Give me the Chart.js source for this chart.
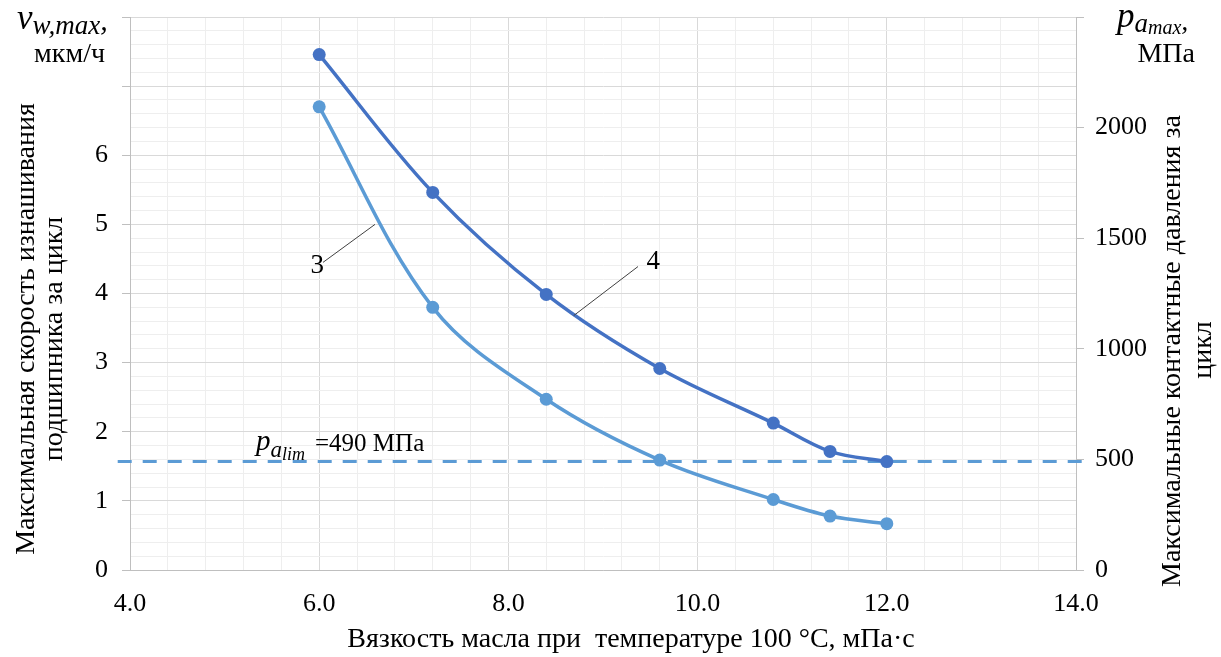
<!DOCTYPE html>
<html>
<head>
<meta charset="utf-8">
<script src="https://cdn.jsdelivr.net/npm/chart.js@4.4.1/dist/chart.umd.min.js"></script>
<style>
html, body { margin: 0; padding: 0; background: #fff; }
#wrap { width: 1221px; height: 657px; position: relative; }
</style>
</head>
<body>
<div id="wrap"><canvas id="chart-wear"></canvas></div>
<script>
// values
const viscosity = [6.0, 7.2, 8.4, 9.6, 10.8, 11.4, 12.0];
const wearRate = [6.70, 3.80, 2.47, 1.59, 1.02, 0.78, 0.67];          // curve 3, left axis
const contactPressure = [2330, 1707, 1246, 911, 664, 536, 490];      // curve 4, right axis
const pressureLimit = 490;
const limitSpan = [3.87, 14.14];
const xLabels = [4, 6, 8, 10, 12, 14];
const leftLabels = [0, 1, 2, 3, 4, 5, 6];
const rightLabels = [0, 500, 1000, 1500, 2000];

const serif = "'Liberation Serif', 'Times New Roman', serif";
const light = '#5B9BD5';
const dark = '#4472C4';
const gridMajor = '#d9d9d9';
const gridMinor = '#eeeeee';
const axisColor = '#bfbfbf';

const near = (v, list) => list.some(t => Math.abs(t - v) < 1e-6);

function drawRuns(ctx, x, list) {
    list.forEach(r => {
        ctx.font = r.font;
        ctx.fillText(r.text, x, r.y);
        x += ctx.measureText(r.text).width + (r.gap || 0);
    });
}

const extraText = {
    id: 'extraText',
    afterDraw(chart) {
        const ctx = chart.ctx;
        const xs = chart.scales.x, yl = chart.scales.y;
        ctx.save();
        ctx.fillStyle = '#000';
        ctx.textBaseline = 'alphabetic';

        // axis titles
        ctx.font = '28px ' + serif;
        ctx.textAlign = 'center';
        ctx.fillText('Вязкость масла при  температуре 100 °С, мПа·с', 631, 647);

        [[34, 329, 'Максимальная скорость изнашивания'], [62, 339, 'подшипника за цикл'],
         [1180, 351, 'Максимальные контактные давления за'], [1211, 350, 'цикл']].forEach(t => {
            ctx.save();
            ctx.translate(t[0], t[1]);
            ctx.rotate(-Math.PI / 2);
            ctx.fillText(t[2], 0, 0);
            ctx.restore();
        });

        // units on top
        ctx.textAlign = 'left';
        drawRuns(ctx, 17, [
            { text: 'v', font: 'italic 35px ' + serif, y: 29 },
            { text: 'w,max', font: 'italic 27px ' + serif, y: 34 },
            { text: ',', font: 'italic 30px ' + serif, y: 30 }
        ]);
        drawRuns(ctx, 1117, [
            { text: 'p', font: 'italic 35px ' + serif, y: 27 },
            { text: 'a', font: 'italic 27px ' + serif, y: 32 },
            { text: 'max', font: 'italic 20px ' + serif, y: 34 },
            { text: ',', font: 'italic 28px ' + serif, y: 30 }
        ]);
        ctx.textAlign = 'right';
        ctx.font = '28px ' + serif;
        ctx.fillText('мкм/ч', 105, 62);
        ctx.fillText('МПа', 1195, 62);

        // limit label
        ctx.textAlign = 'left';
        drawRuns(ctx, 256, [
            { text: 'p', font: 'italic 29px ' + serif, y: 450 },
            { text: 'a', font: 'italic 23px ' + serif, y: 457 },
            { text: 'lim', font: 'italic 18px ' + serif, y: 460, gap: 10 },
            { text: '=490 МПа', font: '25px ' + serif, y: 451 }
        ]);

        // curve numbers with leaders
        ctx.textAlign = 'center';
        ctx.font = '27px ' + serif;
        ctx.fillText('3', xs.getPixelForValue(5.98), yl.getPixelForValue(4.30));
        ctx.fillText('4', xs.getPixelForValue(9.53), yl.getPixelForValue(4.36));
        ctx.strokeStyle = '#404040';
        ctx.lineWidth = 1;
        ctx.beginPath();
        ctx.moveTo(xs.getPixelForValue(6.04), yl.getPixelForValue(4.45));
        ctx.lineTo(xs.getPixelForValue(6.59), yl.getPixelForValue(5.0));
        ctx.moveTo(xs.getPixelForValue(9.37), yl.getPixelForValue(4.39));
        ctx.lineTo(xs.getPixelForValue(8.69), yl.getPixelForValue(3.68));
        ctx.stroke();
        ctx.restore();
    }
};

const data = {
    datasets: [
        {
            label: '3',
            data: viscosity.map((x, i) => ({ x: x, y: wearRate[i] })),
            yAxisID: 'y',
            borderColor: light,
            backgroundColor: light,
            borderWidth: 3.5,
            pointRadius: 6.5,
            pointBorderWidth: 0,
            tension: 0.35
        },
        {
            label: '4',
            data: viscosity.map((x, i) => ({ x: x, y: contactPressure[i] })),
            yAxisID: 'y1',
            borderColor: dark,
            backgroundColor: dark,
            borderWidth: 3.5,
            pointRadius: 6.5,
            pointBorderWidth: 0,
            tension: 0.35
        },
        {
            label: 'limit',
            data: limitSpan.map(x => ({ x: x, y: pressureLimit })),
            yAxisID: 'y1',
            borderColor: light,
            borderWidth: 3,
            borderDash: [14, 11],
            pointRadius: 0,
            clip: false
        }
    ]
};

// vertical scales: fixed width, no extra room for the (hidden) top label
const fitY = w => s => { s.width = w; s.paddingTop = 0; s.paddingBottom = 0; };

const config = {
    type: 'line',
    data: data,
    options: {
        responsive: true,
        maintainAspectRatio: false,
        animation: false,
        layout: { padding: { top: 17, left: 0, right: 0, bottom: 0 } },
        plugins: {
            legend: { display: false },
            tooltip: { enabled: false }
        },
        scales: {
            x: {
                type: 'linear',
                min: 4,
                max: 14,
                afterFit: s => { s.height = 87; s.paddingLeft = 0; s.paddingRight = 0; },
                ticks: {
                    stepSize: 0.4,
                    autoSkip: false,
                    maxRotation: 0,
                    padding: 19,
                    color: '#000',
                    font: { family: serif, size: 26 },
                    callback: v => near(v, xLabels) ? v.toFixed(1) : ''
                },
                grid: {
                    drawTicks: false,
                    color: c => near(c.tick.value / 2, [Math.round(c.tick.value / 2)]) ? gridMajor : gridMinor
                },
                border: { color: axisColor }
            },
            y: {
                position: 'left',
                min: 0,
                max: 8,
                afterFit: fitY(130),
                ticks: {
                    stepSize: 0.2,
                    autoSkip: false,
                    padding: 14,
                    color: '#000',
                    font: { family: serif, size: 26 },
                    callback: v => near(v, leftLabels) ? String(Math.round(v)) : ''
                },
                grid: {
                    tickLength: 8,
                    color: c => near(c.tick.value, [Math.round(c.tick.value)]) ? gridMajor : gridMinor,
                    tickColor: c => near(c.tick.value, [Math.round(c.tick.value)]) ? axisColor : 'rgba(0,0,0,0)'
                },
                border: { color: axisColor }
            },
            y1: {
                position: 'right',
                min: 0,
                max: 2500,
                afterFit: fitY(145),
                ticks: {
                    stepSize: 500,
                    padding: 11,
                    color: '#000',
                    font: { family: serif, size: 26 },
                    callback: v => near(v, rightLabels) ? String(v) : ''
                },
                grid: {
                    drawOnChartArea: false,
                    tickLength: 8,
                    tickColor: axisColor
                },
                border: { color: axisColor }
            }
        }
    },
    plugins: [extraText]
};

new Chart(document.getElementById('chart-wear'), config);
</script>
</body>
</html>
